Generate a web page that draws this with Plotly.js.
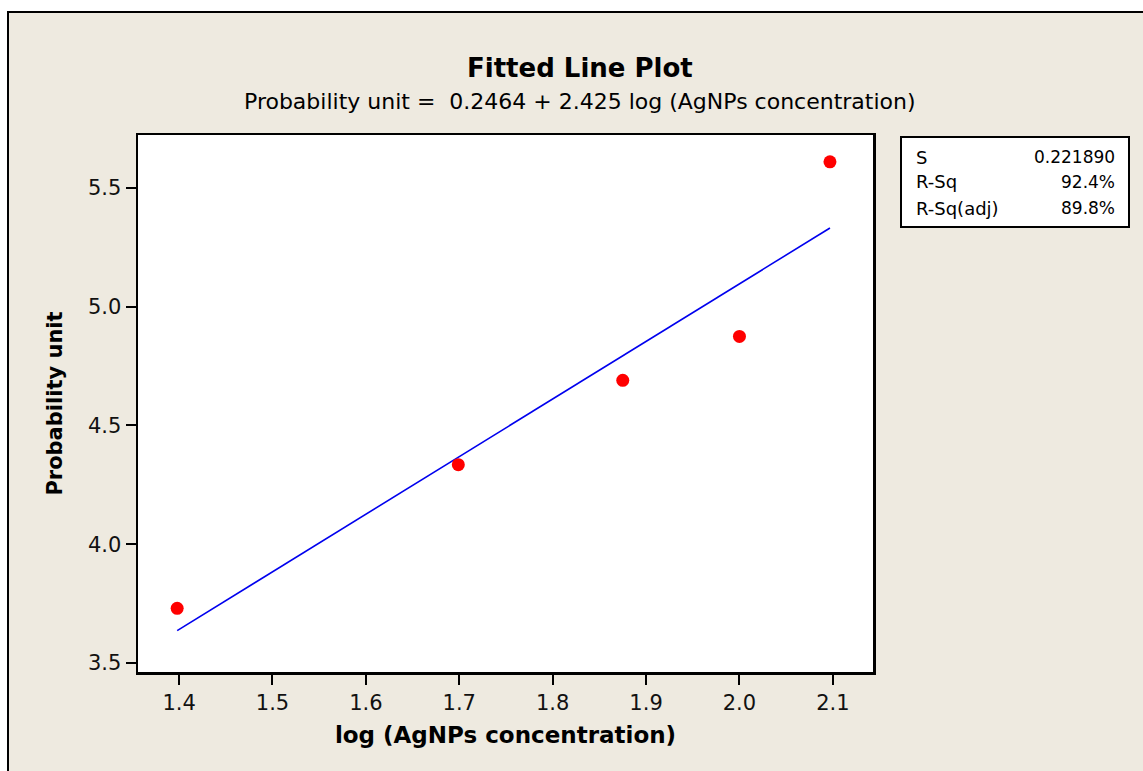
<!DOCTYPE html>
<html><head><meta charset="utf-8">
<script src="https://cdn.plot.ly/plotly-3.0.1.min.js"></script>
<style>
html,body{margin:0;padding:0;background:#fff;width:1143px;height:771px;overflow:hidden;}
#frame{position:absolute;left:7px;top:11px;width:1140px;height:765px;background:#EEEAE0;border-left:2px solid #000;border-top:2px solid #000;}
#chart{position:absolute;left:0;top:0;width:1143px;height:771px;}
</style></head>
<body>
<div id="frame"></div>
<div id="chart"></div>
<script>
const logConc = [1.39794, 1.69897, 1.87506, 2.0, 2.09691];
const probit = [3.73, 4.335, 4.69, 4.875, 5.61];
const fitX = [1.39794, 2.09691];
const fitY = [3.6364, 5.3314];
const statLabels = ["S", "R-Sq", "R-Sq(adj)"];
const statValues = ["0.221890", "92.4%", "89.8%"];
const xTicks = [1.4, 1.5, 1.6, 1.7, 1.8, 1.9, 2.0, 2.1];
const yTicks = [3.5, 4.0, 4.5, 5.0, 5.5];

const F = "DejaVu Sans, Verdana, sans-serif";
const traces = [
  {x: fitX, y: fitY, mode: "lines", line: {color: "#0000EE", width: 1.6}, hoverinfo: "skip"},
  {x: logConc, y: probit, mode: "markers", marker: {color: "#FF0000", size: 13}}
];
const rowY = [0.959, 0.9125, 0.864];
const annotations = [
  {text: "<b>Fitted Line Plot</b>", xref: "paper", yref: "paper", x: 0.602, y: 1.1248, xanchor: "center", yanchor: "middle", showarrow: false, font: {family: F, size: 26, color: "#000"}},
  {text: "Probability unit =  0.2464 + 2.425 log (AgNPs concentration)", xref: "paper", yref: "paper", x: 0.601, y: 1.0633, xanchor: "center", yanchor: "middle", showarrow: false, font: {family: F, size: 22, color: "#000"}}
];
statLabels.forEach((l, i) => {
  annotations.push({text: l, xref: "paper", yref: "paper", x: 1.056, y: rowY[i], xanchor: "left", yanchor: "middle", showarrow: false, font: {family: F, size: 18, color: "#000"}});
  annotations.push({text: statValues[i], xref: "paper", yref: "paper", x: 1.332, y: rowY[i], xanchor: "right", yanchor: "middle", showarrow: false, font: {family: F, size: 17, color: "#000"}});
});
const layout = {
  width: 1143, height: 771,
  margin: {l: 138, r: 270, t: 135, b: 99, pad: 0},
  paper_bgcolor: "rgba(0,0,0,0)",
  plot_bgcolor: "#fff",
  showlegend: false,
  xaxis: {
    range: [1.356, 2.143], tickvals: xTicks, ticktext: xTicks.map(v => v.toFixed(1)),
    ticks: "outside", ticklen: 10, tickwidth: 2, tickcolor: "#000",
    showline: true, linecolor: "#000", linewidth: 2.5, mirror: true, showgrid: false, zeroline: false,
    tickfont: {family: F, size: 21, color: "#111"},
    title: {text: "<b>log (AgNPs concentration)</b>", font: {family: F, size: 23, color: "#000"}, standoff: 13}
  },
  yaxis: {
    range: [3.462, 5.723], tickvals: yTicks, ticktext: yTicks.map(v => v.toFixed(1)),
    ticks: "outside", ticklen: 10, tickwidth: 2, tickcolor: "#000",
    showline: true, linecolor: "#000", linewidth: 2.5, mirror: true, showgrid: false, zeroline: false,
    tickfont: {family: F, size: 21, color: "#111"},
    title: {text: "<b>Probability unit</b>", font: {family: F, size: 21, color: "#000"}, standoff: 20}
  },
  shapes: [
    {type: "rect", xref: "paper", yref: "paper", x0: 1.0381, x1: 1.3483, y0: 0.8287, y1: 0.9963, line: {color: "#000", width: 2}, fillcolor: "#fff", layer: "below"}
  ],
  annotations: annotations
};
Plotly.newPlot("chart", traces, layout, {displayModeBar: false, staticPlot: true});
</script>
</body></html>
